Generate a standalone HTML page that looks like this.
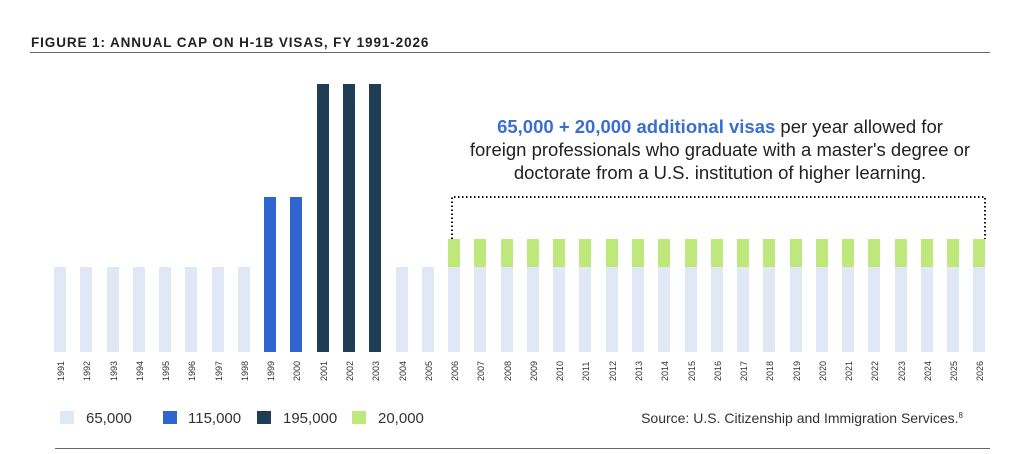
<!DOCTYPE html>
<html><head><meta charset="utf-8"><style>
body{margin:0;background:#fff;}
svg text{font-family:"Liberation Sans",sans-serif;}
.l{fill:#e1e8f5}.b{fill:#3065d0}.d{fill:#1f3d55}.g{fill:#bfe87c}
.t{font-size:9px;fill:#333}
</style></head><body>
<svg width="1024" height="449" xmlns="http://www.w3.org/2000/svg">
<text x="31" y="47" font-size="13.5" font-weight="bold" fill="#222" letter-spacing="0.9">FIGURE 1: ANNUAL CAP ON H-1B VISAS, FY 1991-2026</text>
<line x1="30" y1="52.5" x2="990" y2="52.5" stroke="#666" stroke-width="1"/>

<rect class="l" x="54" y="267" width="12" height="85"/>
<rect class="l" x="80" y="267" width="12" height="85"/>
<rect class="l" x="107" y="267" width="12" height="85"/>
<rect class="l" x="133" y="267" width="12" height="85"/>
<rect class="l" x="159" y="267" width="12" height="85"/>
<rect class="l" x="185" y="267" width="12" height="85"/>
<rect class="l" x="212" y="267" width="12" height="85"/>
<rect class="l" x="238" y="267" width="12" height="85"/>
<rect class="b" x="264" y="197" width="12" height="155"/>
<rect class="b" x="290" y="197" width="12" height="155"/>
<rect class="d" x="317" y="84" width="12" height="268"/>
<rect class="d" x="343" y="84" width="12" height="268"/>
<rect class="d" x="369" y="84" width="12" height="268"/>
<rect class="l" x="396" y="267" width="12" height="85"/>
<rect class="l" x="422" y="267" width="12" height="85"/>
<g>
<rect class="l" x="448" y="267" width="12" height="85"/><rect class="g" x="448" y="239" width="12" height="28"/>
<rect class="l" x="474" y="267" width="12" height="85"/><rect class="g" x="474" y="239" width="12" height="28"/>
<rect class="l" x="501" y="267" width="12" height="85"/><rect class="g" x="501" y="239" width="12" height="28"/>
<rect class="l" x="527" y="267" width="12" height="85"/><rect class="g" x="527" y="239" width="12" height="28"/>
<rect class="l" x="553" y="267" width="12" height="85"/><rect class="g" x="553" y="239" width="12" height="28"/>
<rect class="l" x="579" y="267" width="12" height="85"/><rect class="g" x="579" y="239" width="12" height="28"/>
<rect class="l" x="606" y="267" width="12" height="85"/><rect class="g" x="606" y="239" width="12" height="28"/>
<rect class="l" x="632" y="267" width="12" height="85"/><rect class="g" x="632" y="239" width="12" height="28"/>
<rect class="l" x="658" y="267" width="12" height="85"/><rect class="g" x="658" y="239" width="12" height="28"/>
<rect class="l" x="685" y="267" width="12" height="85"/><rect class="g" x="685" y="239" width="12" height="28"/>
<rect class="l" x="711" y="267" width="12" height="85"/><rect class="g" x="711" y="239" width="12" height="28"/>
<rect class="l" x="737" y="267" width="12" height="85"/><rect class="g" x="737" y="239" width="12" height="28"/>
<rect class="l" x="763" y="267" width="12" height="85"/><rect class="g" x="763" y="239" width="12" height="28"/>
<rect class="l" x="790" y="267" width="12" height="85"/><rect class="g" x="790" y="239" width="12" height="28"/>
<rect class="l" x="816" y="267" width="12" height="85"/><rect class="g" x="816" y="239" width="12" height="28"/>
<rect class="l" x="842" y="267" width="12" height="85"/><rect class="g" x="842" y="239" width="12" height="28"/>
<rect class="l" x="868" y="267" width="12" height="85"/><rect class="g" x="868" y="239" width="12" height="28"/>
<rect class="l" x="895" y="267" width="12" height="85"/><rect class="g" x="895" y="239" width="12" height="28"/>
<rect class="l" x="921" y="267" width="12" height="85"/><rect class="g" x="921" y="239" width="12" height="28"/>
<rect class="l" x="947" y="267" width="12" height="85"/><rect class="g" x="947" y="239" width="12" height="28"/>
<rect class="l" x="973" y="267" width="12" height="85"/><rect class="g" x="973" y="239" width="12" height="28"/>
</g>

<g class="t">
<text class="t" transform="translate(64,381) rotate(-90)">1991</text>
<text class="t" transform="translate(90,381) rotate(-90)">1992</text>
<text class="t" transform="translate(117,381) rotate(-90)">1993</text>
<text class="t" transform="translate(143,381) rotate(-90)">1994</text>
<text class="t" transform="translate(169,381) rotate(-90)">1995</text>
<text class="t" transform="translate(195,381) rotate(-90)">1996</text>
<text class="t" transform="translate(222,381) rotate(-90)">1997</text>
<text class="t" transform="translate(248,381) rotate(-90)">1998</text>
<text class="t" transform="translate(274,381) rotate(-90)">1999</text>
<text class="t" transform="translate(300,381) rotate(-90)">2000</text>
<text class="t" transform="translate(327,381) rotate(-90)">2001</text>
<text class="t" transform="translate(353,381) rotate(-90)">2002</text>
<text class="t" transform="translate(379,381) rotate(-90)">2003</text>
<text class="t" transform="translate(406,381) rotate(-90)">2004</text>
<text class="t" transform="translate(432,381) rotate(-90)">2005</text>
<text class="t" transform="translate(458,381) rotate(-90)">2006</text>
<text class="t" transform="translate(484,381) rotate(-90)">2007</text>
<text class="t" transform="translate(511,381) rotate(-90)">2008</text>
<text class="t" transform="translate(537,381) rotate(-90)">2009</text>
<text class="t" transform="translate(563,381) rotate(-90)">2010</text>
<text class="t" transform="translate(589,381) rotate(-90)">2011</text>
<text class="t" transform="translate(616,381) rotate(-90)">2012</text>
<text class="t" transform="translate(642,381) rotate(-90)">2013</text>
<text class="t" transform="translate(668,381) rotate(-90)">2014</text>
<text class="t" transform="translate(695,381) rotate(-90)">2015</text>
<text class="t" transform="translate(721,381) rotate(-90)">2016</text>
<text class="t" transform="translate(747,381) rotate(-90)">2017</text>
<text class="t" transform="translate(773,381) rotate(-90)">2018</text>
<text class="t" transform="translate(800,381) rotate(-90)">2019</text>
<text class="t" transform="translate(826,381) rotate(-90)">2020</text>
<text class="t" transform="translate(852,381) rotate(-90)">2021</text>
<text class="t" transform="translate(878,381) rotate(-90)">2022</text>
<text class="t" transform="translate(905,381) rotate(-90)">2023</text>
<text class="t" transform="translate(931,381) rotate(-90)">2024</text>
<text class="t" transform="translate(957,381) rotate(-90)">2025</text>
<text class="t" transform="translate(983,381) rotate(-90)">2026</text>
</g>

<polyline points="452,239 452,197 985,197 985,239" fill="none" stroke="#111" stroke-width="2" stroke-dasharray="1.5,2.5"/>
<text x="720" y="133" font-size="18.5" text-anchor="middle" fill="#222"><tspan fill="#3a6fd0" font-weight="bold">65,000 + 20,000 additional visas</tspan> per year allowed for</text>
<text x="720" y="156" font-size="18.5" text-anchor="middle" fill="#222">foreign professionals who graduate with a master's degree or</text>
<text x="720" y="179" font-size="18.5" text-anchor="middle" fill="#222">doctorate from a U.S. institution of higher learning.</text>
<rect x="60" y="411" width="14" height="13" fill="#e1e8f5"/><text x="86" y="423" font-size="15" fill="#333">65,000</text>
<rect x="163" y="411" width="14" height="13" fill="#3065d0"/><text x="188" y="423" font-size="15" fill="#333">115,000</text>
<rect x="257" y="411" width="14" height="13" fill="#1f3d55"/><text x="283" y="423" font-size="15" fill="#333">195,000</text>
<rect x="352" y="411" width="14" height="13" fill="#bfe87c"/><text x="378" y="423" font-size="15" fill="#333">20,000</text>
<text x="963" y="423" font-size="14" text-anchor="end" fill="#333">Source: U.S. Citizenship and Immigration Services.<tspan font-size="8" dy="-5">8</tspan></text>
<line x1="55" y1="448.5" x2="990" y2="448.5" stroke="#666" stroke-width="1"/>
</svg>
</body></html>
